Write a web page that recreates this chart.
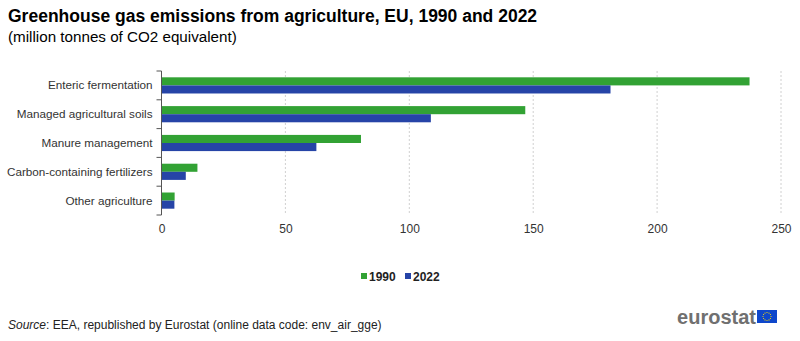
<!DOCTYPE html>
<html>
<head>
<meta charset="utf-8">
<script src="https://cdn.jsdelivr.net/npm/d3@7"></script>
<style>
  body { margin: 0; background: #fff; }
  svg { font-family: "Liberation Sans", Arial, sans-serif; display: block; }
</style>
</head>
<body>
<div id="container"></div>
<script>
// emissions by source, million tonnes CO2 equivalent
const categories = [
  "Enteric fermentation",
  "Managed agricultural soils",
  "Manure management",
  "Carbon-containing fertilizers",
  "Other agriculture",
];
const years = ["1990", "2022"];
const values1990 = [237.3, 146.8, 80.5, 14.5, 5.3];
const values2022 = [181.2, 108.7, 62.5, 9.8, 5.2];
const xTicks = [0, 50, 100, 150, 200, 250];

const width = 800,
  height = 341;
const margin = { left: 161.5, right: 19, top: 71, bottom: 126 };
const colors = ["#32a234", "#2644a7"];

const svg = d3
  .select("#container")
  .append("svg")
  .attr("width", width)
  .attr("height", height);

// titles
svg
  .append("text")
  .attr("x", 8)
  .attr("y", 22)
  .attr("font-size", 17.5)
  .attr("font-weight", "bold")
  .attr("fill", "#000")
  .text("Greenhouse gas emissions from agriculture, EU, 1990 and 2022");
svg
  .append("text")
  .attr("x", 8)
  .attr("y", 42)
  .attr("font-size", 15.2)
  .attr("fill", "#000")
  .text("(million tonnes of CO2 equivalent)");

const x = d3
  .scaleLinear()
  .domain([0, 250])
  .range([margin.left, width - margin.right]);
const y = d3
  .scaleBand()
  .domain(categories)
  .range([margin.top, height - margin.bottom]);
const yInner = d3
  .scaleBand()
  .domain(years)
  .range([0, y.bandwidth()])
  .paddingOuter(0.78);

// dashed gridlines
svg
  .append("g")
  .selectAll("line")
  .data(xTicks.slice(1))
  .enter()
  .append("line")
  .attr("x1", (d) => x(d))
  .attr("x2", (d) => x(d))
  .attr("y1", margin.top)
  .attr("y2", height - margin.bottom)
  .attr("stroke", "#d0d0d0")
  .attr("stroke-dasharray", "2,2");

// bars
const series = [values1990, values2022];
const groups = svg
  .append("g")
  .selectAll("g")
  .data(categories)
  .enter()
  .append("g")
  .attr("transform", (d) => `translate(0,${y(d)})`);
groups
  .selectAll("rect")
  .data((d, i) => years.map((yr, j) => ({ yr, v: series[j][i], c: colors[j] })))
  .enter()
  .append("rect")
  .attr("x", x(0))
  .attr("y", (d) => yInner(d.yr))
  .attr("width", (d) => x(d.v) - x(0))
  .attr("height", yInner.bandwidth())
  .attr("fill", (d) => d.c);

// x axis labels
const xAxis = d3
  .axisBottom(x)
  .tickValues(xTicks)
  .tickSize(0)
  .tickPadding(8);
svg
  .append("g")
  .attr("transform", `translate(0,${height - margin.bottom + 1})`)
  .call(xAxis)
  .call((g) => g.select(".domain").remove())
  .selectAll("text")
  .attr("font-size", 12)
  .attr("fill", "#333")
  .attr("font-family", "Liberation Sans, Arial, sans-serif");

// category axis with ticks at band edges
const yAxis = svg.append("g");
yAxis
  .append("line")
  .attr("x1", x(0))
  .attr("x2", x(0))
  .attr("y1", margin.top)
  .attr("y2", height - margin.bottom)
  .attr("stroke", "#555")
  .attr("stroke-width", 1);
const edges = categories.map((c) => y(c)).concat([y.range()[1]]);
yAxis
  .selectAll(".edge")
  .data(edges)
  .enter()
  .append("line")
  .attr("class", "edge")
  .attr("x1", x(0) - 5)
  .attr("x2", x(0))
  .attr("y1", (d) => d)
  .attr("y2", (d) => d)
  .attr("stroke", "#555");
yAxis
  .selectAll(".cat")
  .data(categories)
  .enter()
  .append("text")
  .attr("class", "cat")
  .attr("x", x(0) - 9)
  .attr("y", (d) => y(d) + y.bandwidth() / 2)
  .attr("dy", "0.35em")
  .attr("text-anchor", "end")
  .attr("font-size", 11.7)
  .attr("fill", "#333")
  .text((d) => d);

// legend
const legend = svg.append("g").attr("transform", "translate(361,277)");
const legendX = [0, 44];
years.forEach((yr, i) => {
  legend
    .append("rect")
    .attr("x", legendX[i])
    .attr("y", -4)
    .attr("width", 6)
    .attr("height", 6)
    .attr("fill", colors[i]);
  legend
    .append("text")
    .attr("x", legendX[i] + 8)
    .attr("y", 0)
    .attr("dy", "0.35em")
    .attr("font-size", 12)
    .attr("font-weight", "bold")
    .attr("fill", "#222")
    .text(yr);
});

// source note
const src = svg
  .append("text")
  .attr("x", 8)
  .attr("y", 329)
  .attr("font-size", 12)
  .attr("fill", "#222");
src.append("tspan").attr("font-style", "italic").text("Source");
src
  .append("tspan")
  .text(": EEA, republished by Eurostat (online data code: env_air_gge)");

// eurostat logo
svg
  .append("text")
  .attr("x", 756)
  .attr("y", 324)
  .attr("text-anchor", "end")
  .attr("font-size", 20)
  .attr("font-weight", "bold")
  .attr("fill", "#707070")
  .text("eurostat");
svg
  .append("rect")
  .attr("x", 757)
  .attr("y", 310)
  .attr("width", 20)
  .attr("height", 13)
  .attr("fill", "#0e47cb");
const stars = d3.range(12).map((i) => (i / 12) * 2 * Math.PI);
svg
  .append("g")
  .selectAll("circle")
  .data(stars)
  .enter()
  .append("circle")
  .attr("cx", (a) => 767 + 4 * Math.cos(a))
  .attr("cy", (a) => 316.5 + 4 * Math.sin(a))
  .attr("r", 0.6)
  .attr("fill", "#ffdd00");
</script>
</body>
</html>
